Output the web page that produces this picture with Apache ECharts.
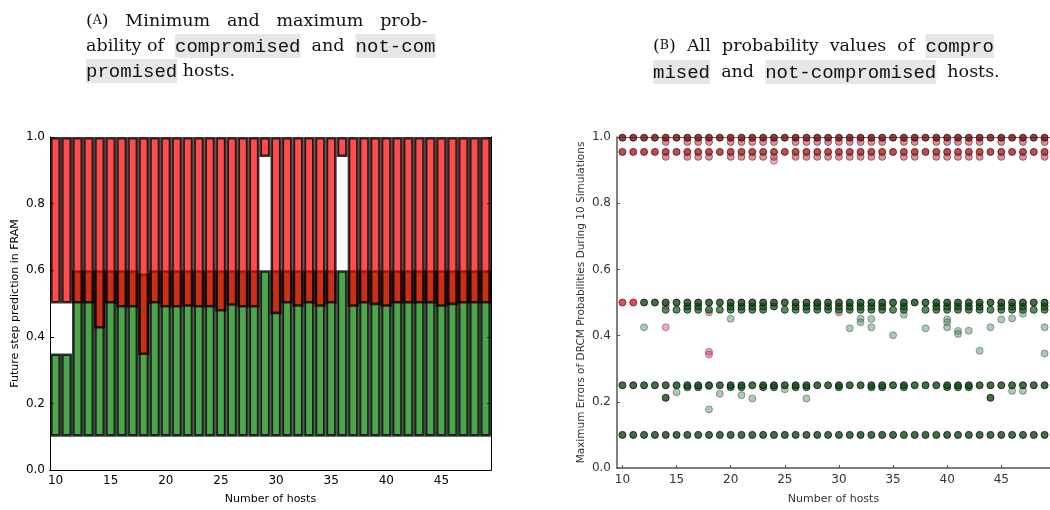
<!DOCTYPE html>
<html>
<head>
<meta charset="utf-8">
<script src="https://cdn.jsdelivr.net/npm/echarts@6/dist/echarts.min.js"></script>
<style>
  html, body { margin: 0; padding: 0; background: #fff; }
  #main { width: 1050px; height: 510px; }
</style>
</head>
<body>
<div id="main"></div>
<script>
// ---- left panel: min / max probability per number of hosts ----
var hosts = [10, 11, 12, 13, 14, 15, 16, 17, 18, 19, 20, 21, 22, 23, 24, 25, 26, 27, 28, 29,
             30, 31, 32, 33, 34, 35, 36, 37, 38, 39, 40, 41, 42, 43, 44, 45, 46, 47, 48, 49];
// not-compromised hosts (green)
var notCompMin = [0.1, 0.1, 0.1, 0.1, 0.1, 0.1, 0.1, 0.1, 0.1, 0.1, 0.1, 0.1, 0.1, 0.1, 0.1, 0.1, 0.1, 0.1, 0.1, 0.1,
                  0.1, 0.1, 0.1, 0.1, 0.1, 0.1, 0.1, 0.1, 0.1, 0.1, 0.1, 0.1, 0.1, 0.1, 0.1, 0.1, 0.1, 0.1, 0.1, 0.1];
var notCompMax = [0.35, 0.35, 0.6, 0.6, 0.6, 0.6, 0.6, 0.6, 0.59, 0.6, 0.6, 0.6, 0.6, 0.6, 0.6, 0.6, 0.6, 0.6, 0.6, 0.6,
                  0.6, 0.6, 0.6, 0.6, 0.6, 0.6, 0.6, 0.6, 0.6, 0.6, 0.6, 0.6, 0.6, 0.6, 0.6, 0.6, 0.6, 0.6, 0.6, 0.6];
// compromised hosts (red)
var compMin = [0.5, 0.5, 0.5, 0.5, 0.425, 0.5, 0.488, 0.488, 0.345, 0.5, 0.488, 0.488, 0.49, 0.488, 0.488, 0.476, 0.493, 0.488, 0.488, 0.94,
               0.468, 0.5, 0.49, 0.5, 0.49, 0.5, 0.94, 0.49, 0.5, 0.495, 0.49, 0.5, 0.5, 0.5, 0.5, 0.49, 0.495, 0.5, 0.5, 0.5];
var compMax = [1, 1, 1, 1, 1, 1, 1, 1, 1, 1, 1, 1, 1, 1, 1, 1, 1, 1, 1, 1,
               1, 1, 1, 1, 1, 1, 1, 1, 1, 1, 1, 1, 1, 1, 1, 1, 1, 1, 1, 1];
var xTickHosts = [10, 15, 20, 25, 30, 35, 40, 45];

// ---- right panel: all probability values over 10 simulations ----
var redTopHosts = hosts;                       // ~1.0
var redTop2Hosts = [14, 16, 17, 18, 20, 21, 22, 23, 24, 26, 27, 28, 29, 30, 31, 32, 33, 34, 36, 37,
                    39, 40, 41, 42, 43, 45, 47, 49];   // ~0.985
var redHighHosts = hosts;                      // ~0.955
var redHigh2Hosts = redTop2Hosts;              // ~0.94
var redStray = [[24, 0.928], [14, 0.49], [18, 0.47], [28, 0.495], [30, 0.47]];
var redHalfHosts = [10, 11];                   // 0.5
var redLow = [[14, 0.425], [18, 0.351], [18, 0.343]];

var greenLowHosts = hosts;                     // 0.1
var greenQuarterHosts = hosts;                 // 0.25
var greenQuarter2Hosts = [16, 17, 20, 21, 23, 24, 26, 27, 30, 33, 34, 36, 40, 41, 42];  // ~0.244
var greenHalfHosts = hosts.slice(2);           // 0.5
var greenMidHosts = [16, 17, 20, 21, 22, 23, 24, 26, 27, 28, 29, 30, 31, 32, 33, 34, 36, 39, 40, 41,
                     42, 43, 45, 46, 47, 49];  // ~0.488
var greenMid2Hosts = [14, 15, 16, 17, 18, 19, 20, 21, 22, 23, 25, 26, 27, 28, 29, 30, 31, 32, 33, 34,
                      35, 36, 38, 39, 40, 41, 42, 43, 44, 45, 46, 47, 48, 49];  // ~0.478
var greenDarkStray = [[14, 0.212], [44, 0.212]];
var greenStray = [[12, 0.425], [20, 0.451], [31, 0.422], [32, 0.451], [32, 0.44], [33, 0.45], [33, 0.425],
                  [35, 0.401], [36, 0.463], [38, 0.422], [40, 0.449], [40, 0.44], [40, 0.425], [41, 0.414],
                  [41, 0.405], [42, 0.415], [43, 0.354], [44, 0.425], [45, 0.449], [46, 0.452], [47, 0.466],
                  [49, 0.425], [49, 0.346],
                  [15, 0.229], [18, 0.177], [18, 0.247], [19, 0.224], [21, 0.22], [22, 0.21], [25, 0.238],
                  [27, 0.21], [46, 0.233], [47, 0.233]];

function row(list, p) {
  return list.map(function (h) { return [h, p]; });
}

var sans = 'DejaVu Sans';
var serif = 'DejaVu Serif';
var mono = 'Liberation Mono';
var edge = 'rgba(0,0,0,0.78)';
var ttStyle = { fontFamily: mono, fontSize: 19, fill: '#111', backgroundColor: '#e6e6e6', padding: [3, 0, 2, 0] };
var scStyle = { fontFamily: serif, fontSize: 12.5, fill: '#111' };

var chart = echarts.init(document.getElementById('main'));

var catAxisBase = {
  type: 'category',
  data: hosts.map(String),
  boundaryGap: true,
  axisLine: { lineStyle: { color: '#000', width: 1 } },
  axisTick: {
    inside: true, length: 4, alignWithLabel: true,
    interval: function (i, v) { return xTickHosts.indexOf(+v) >= 0; },
    lineStyle: { color: '#000' }
  },
  splitLine: { show: false }
};

// caption lines are justified in the source, so wider gaps are kept in the strings
function caption(x, y, text) {
  return { type: 'text', x: x, y: y, style: {
    text: text, fontFamily: serif, fontSize: 17.5, fill: '#111', verticalAlign: 'middle',
    rich: { sc: scStyle, tt: ttStyle } } };
}

var option = {
  animation: false,
  backgroundColor: '#fff',
  graphic: [
    caption(86, 21, '({sc|A})   Minimum   and   maximum   prob-'),
    caption(86, 46, 'ability of  {tt|compromised}  and  {tt|not-com}'),
    caption(86, 71, '{tt|promised} hosts.'),
    caption(653, 46, '({sc|B})  All  probability  values  of  {tt|compro}'),
    caption(653, 72, '{tt|mised}  and  {tt|not-compromised}  hosts.')
  ],
  grid: [
    { left: 50, top: 137, width: 441, height: 341 },
    { left: 617, top: 137, width: 440, height: 341 }
  ],
  xAxis: [
    Object.assign({}, catAxisBase, {
      gridIndex: 0, position: 'bottom',
      name: 'Number of hosts', nameLocation: 'middle', nameGap: 24,
      nameTextStyle: { fontFamily: sans, fontSize: 11, color: '#000' },
      axisLabel: {
        interval: function (i, v) { return xTickHosts.indexOf(+v) >= 0; },
        fontFamily: sans, fontSize: 12, color: '#000', margin: 5
      }
    }),
    Object.assign({}, catAxisBase, {
      gridIndex: 0, position: 'top', axisLabel: { show: false }
    }),
    {
      type: 'value', gridIndex: 1, position: 'bottom', min: 9.5, max: 49.5,
      name: 'Number of hosts', nameLocation: 'middle', nameGap: 26,
      nameTextStyle: { fontFamily: sans, fontSize: 11, color: '#333' },
      axisLine: { lineStyle: { color: '#555', width: 1.5 } },
      axisTick: { inside: true, length: 3, customValues: xTickHosts, lineStyle: { color: '#555' } },
      axisLabel: { customValues: xTickHosts, fontFamily: sans, fontSize: 12, color: '#333', margin: 6 },
      splitLine: { show: false }
    },
    {
      type: 'value', gridIndex: 1, position: 'top', min: 9.5, max: 49.5,
      axisLine: { lineStyle: { color: '#666', width: 1.2 } },
      axisTick: { show: false }, axisLabel: { show: false }, splitLine: { show: false }
    }
  ],
  yAxis: [
    {
      type: 'value', gridIndex: 0, position: 'left', min: 0, max: 1, interval: 0.2,
      name: 'Future step prediction in FRAM', nameLocation: 'middle', nameGap: 29,
      nameTextStyle: { fontFamily: sans, fontSize: 11, color: '#000' },
      axisLine: { show: true, lineStyle: { color: '#000', width: 1 } },
      axisTick: { show: true, inside: true, length: 4, lineStyle: { color: '#000' } },
      axisLabel: { fontFamily: sans, fontSize: 12, color: '#000', margin: 5,
                   formatter: function (v) { return v.toFixed(1); } },
      splitLine: { show: false }
    },
    {
      type: 'value', gridIndex: 0, position: 'right', min: 0, max: 1, interval: 0.2,
      axisLine: { show: true, lineStyle: { color: '#000', width: 1 } },
      axisTick: { show: true, inside: true, length: 4, lineStyle: { color: '#000' } },
      axisLabel: { show: false }, splitLine: { show: false }
    },
    {
      type: 'value', gridIndex: 1, position: 'left', min: 0, max: 1, interval: 0.2,
      name: 'Maximum Errors of DRCM Probabilities During 10 Simulations',
      nameLocation: 'middle', nameGap: 30,
      nameTextStyle: { fontFamily: sans, fontSize: 10.5, color: '#333' },
      axisLine: { show: true, lineStyle: { color: '#555', width: 1.5 } },
      axisTick: { show: true, inside: true, length: 3, lineStyle: { color: '#555' } },
      axisLabel: { fontFamily: sans, fontSize: 12, color: '#333', margin: 6,
                   formatter: function (v) { return v.toFixed(1); } },
      splitLine: { show: false }
    }
  ],
  series: [
    // left: not-compromised range (green), compromised range (red) drawn over it
    { type: 'bar', xAxisIndex: 0, yAxisIndex: 0, stack: 'notComp', silent: true,
      barCategoryGap: '0%', barGap: '-100%',
      itemStyle: { color: 'rgba(0,0,0,0)' }, data: notCompMin },
    { type: 'bar', xAxisIndex: 0, yAxisIndex: 0, stack: 'notComp',
      barCategoryGap: '0%', barGap: '-100%',
      itemStyle: { color: 'rgba(0,128,0,0.7)', borderColor: edge, borderWidth: 2.6 },
      data: notCompMax.map(function (v, i) { return +(v - notCompMin[i]).toFixed(4); }) },
    { type: 'bar', xAxisIndex: 0, yAxisIndex: 0, stack: 'comp', silent: true,
      barCategoryGap: '0%', barGap: '-100%',
      itemStyle: { color: 'rgba(0,0,0,0)' }, data: compMin },
    { type: 'bar', xAxisIndex: 0, yAxisIndex: 0, stack: 'comp',
      barCategoryGap: '0%', barGap: '-100%',
      itemStyle: { color: 'rgba(255,0,0,0.7)', borderColor: edge, borderWidth: 2.6 },
      data: compMax.map(function (v, i) { return +(v - compMin[i]).toFixed(4); }) },

    // right: scatter of all values
    { type: 'scatter', xAxisIndex: 2, yAxisIndex: 2, symbolSize: 7,
      itemStyle: { color: 'rgba(200,70,110,0.55)', borderColor: 'rgba(120,40,60,0.6)', borderWidth: 1 },
      data: redLow.concat(redStray) },
    { type: 'scatter', xAxisIndex: 2, yAxisIndex: 2, symbolSize: 7,
      itemStyle: { color: 'rgba(180,60,70,0.7)', borderColor: 'rgba(100,20,30,0.7)', borderWidth: 1 },
      data: row(redTop2Hosts, 0.985).concat(row(redHigh2Hosts, 0.94)) },
    { type: 'scatter', xAxisIndex: 2, yAxisIndex: 2, symbolSize: 7,
      itemStyle: { color: '#a82226', borderColor: '#5a0c10', borderWidth: 1 },
      data: row(redHighHosts, 0.955) },
    { type: 'scatter', xAxisIndex: 2, yAxisIndex: 2, symbolSize: 7,
      itemStyle: { color: '#7a1010', borderColor: '#3a0505', borderWidth: 1 },
      data: row(redTopHosts, 0.998) },
    { type: 'scatter', xAxisIndex: 2, yAxisIndex: 2, symbolSize: 7,
      itemStyle: { color: '#d4202e', borderColor: '#8a1018', borderWidth: 1 },
      data: row(redHalfHosts, 0.5) },
    { type: 'scatter', xAxisIndex: 2, yAxisIndex: 2, symbolSize: 7,
      itemStyle: { color: 'rgba(70,135,90,0.55)', borderColor: 'rgba(40,80,50,0.6)', borderWidth: 1 },
      data: greenStray },
    { type: 'scatter', xAxisIndex: 2, yAxisIndex: 2, symbolSize: 7,
      itemStyle: { color: '#2e6e34', borderColor: '#0e2e10', borderWidth: 1 },
      data: row(greenMid2Hosts, 0.478).concat(row(greenQuarter2Hosts, 0.244)) },
    { type: 'scatter', xAxisIndex: 2, yAxisIndex: 2, symbolSize: 7,
      itemStyle: { color: '#1f5a24', borderColor: '#082008', borderWidth: 1 },
      data: row(greenMidHosts, 0.488) },
    { type: 'scatter', xAxisIndex: 2, yAxisIndex: 2, symbolSize: 7,
      itemStyle: { color: '#154a18', borderColor: '#031203', borderWidth: 1 },
      data: row(greenLowHosts, 0.1).concat(row(greenQuarterHosts, 0.25), row(greenHalfHosts, 0.5), greenDarkStray) }
  ]
};

chart.setOption(option);
</script>
</body>
</html>
